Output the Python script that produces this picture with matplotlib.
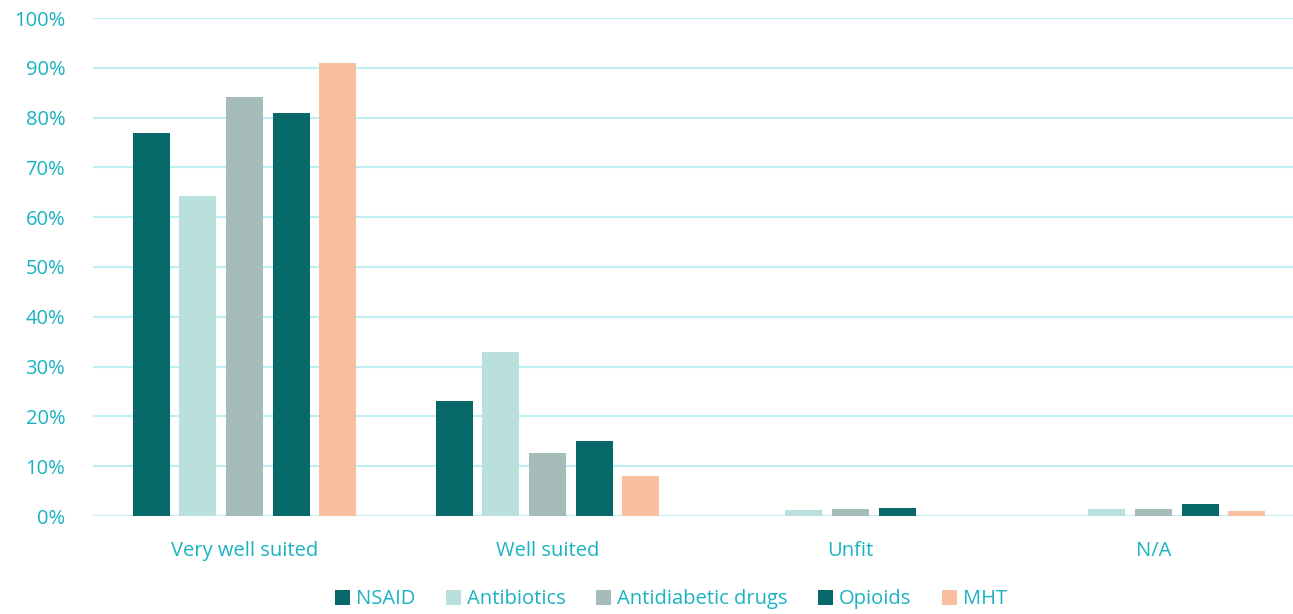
import numpy as np
import matplotlib.pyplot as plt
from matplotlib.ticker import PercentFormatter

categories = ["Very well suited", "Well suited", "Unfit", "N/A"]
series = ["NSAID", "Antibiotics", "Antidiabetic drugs", "Opioids", "MHT"]
nsaid = [77, 23, 0, 0]
antibiotics = [64.3, 33, 1.2, 1.5]
antidiabetic = [84.1, 12.7, 1.5, 1.5]
opioids = [81, 15, 1.6, 2.5]
mht = [91, 8, 0, 1.0]
values = [nsaid, antibiotics, antidiabetic, opioids, mht]
colors = ["#07686a", "#b9e0dd", "#a5bcbb", "#07686a", "#f8bfa0"]

text_col = "#1ab2c2"
plt.rcParams['font.family'] = ['Open Sans', 'DejaVu Sans']

fig = plt.figure(figsize=(12.93, 6.14), dpi=100)
# axes runs a little past the right edge, like the original
ax = fig.add_axes([93 / 1293, 98 / 614, 1212 / 1293, 498 / 614])

x = np.arange(len(categories))
step = 0.154
width = 0.122
for i, (name, vals, c) in enumerate(zip(series, values, colors)):
    ax.bar(x + (i - 2) * step, vals, width, color=c, label=name, zorder=3)

ax.set_xlim(-0.5, 3.5)
ax.set_ylim(0, 100)
ax.set_yticks(np.arange(0, 101, 10))
ax.yaxis.set_major_formatter(PercentFormatter(decimals=0))
ax.set_xticks(x)
ax.set_xticklabels(categories)
ax.grid(axis='y', color="#bdeef3", linewidth=1.5, zorder=0)
for s in ax.spines.values():
    s.set_visible(False)
ax.tick_params(length=0, colors=text_col, labelsize=14.5)
ax.tick_params(axis='y', pad=20)
ax.tick_params(axis='x', pad=18)

leg = fig.legend(loc='lower center', bbox_to_anchor=(0.519, -0.022), ncol=5,
                 frameon=False, fontsize=14.5, handlelength=0.75, handleheight=0.75,
                 handletextpad=0.3, columnspacing=1.5)
for t in leg.get_texts():
    t.set_color(text_col)

fig.savefig("out.png", dpi=100)
